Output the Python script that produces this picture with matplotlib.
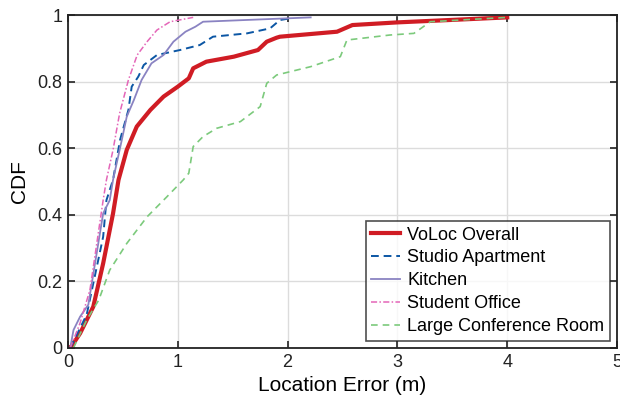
import matplotlib
matplotlib.use("Agg")
import matplotlib.pyplot as plt

plt.rcParams['font.family'] = ['Liberation Sans', 'DejaVu Sans']

# VoLoc Overall
overall_x = [0.0, 0.03, 0.11, 0.23, 0.32, 0.41, 0.46, 0.535, 0.626, 0.75, 0.87, 1.0, 1.10, 1.14,
             1.26, 1.51, 1.73, 1.81, 1.90, 1.93, 2.45, 2.59, 3.0, 4.0]
overall_y = [0.0, 0.004, 0.044, 0.124, 0.254, 0.404, 0.505, 0.595, 0.665, 0.715, 0.755, 0.785, 0.81, 0.84,
             0.86, 0.875, 0.895, 0.92, 0.932, 0.935, 0.95, 0.97, 0.978, 0.993]

# Studio Apartment
studio_x = [0.02, 0.17, 0.32, 0.35, 0.41, 0.474, 0.55, 0.58, 0.64, 0.69, 0.81, 1.02, 1.20, 1.32,
            1.63, 1.84, 1.93, 2.02]
studio_y = [0.0, 0.10, 0.334, 0.444, 0.505, 0.625, 0.715, 0.785, 0.815, 0.85, 0.88, 0.895, 0.91, 0.935,
            0.945, 0.96, 0.985, 0.99]

# Kitchen
kitchen_x = [0.02, 0.05, 0.11, 0.185, 0.246, 0.32, 0.38, 0.41, 0.49, 0.535, 0.60, 0.67, 0.76, 0.87,
             0.96, 1.07, 1.16, 1.23, 2.21]
kitchen_y = [0.0, 0.054, 0.094, 0.13, 0.254, 0.404, 0.444, 0.505, 0.625, 0.695, 0.745, 0.805, 0.855, 0.88,
             0.92, 0.95, 0.965, 0.98, 0.993]

# Student Office
office_x = [0.02, 0.11, 0.2, 0.32, 0.35, 0.41, 0.47, 0.55, 0.63, 0.72, 0.81, 0.93, 1.14]
office_y = [0.0, 0.075, 0.175, 0.444, 0.505, 0.595, 0.705, 0.805, 0.88, 0.92, 0.955, 0.98, 0.993]

# Large Conference Room
conf_x = [0.05, 0.17, 0.28, 0.38, 0.535, 0.72, 0.90, 1.05, 1.10, 1.14, 1.23, 1.355, 1.57, 1.75,
          1.81, 1.90, 2.21, 2.48, 2.54, 2.93, 3.15, 3.30, 4.0]
conf_y = [0.0, 0.084, 0.144, 0.234, 0.314, 0.394, 0.454, 0.505, 0.525, 0.605, 0.635, 0.66, 0.68, 0.725,
          0.795, 0.82, 0.845, 0.875, 0.925, 0.94, 0.945, 0.98, 0.993]

fig = plt.figure(figsize=(6.2, 4.07), dpi=100)
ax = fig.add_axes([0.1097, 0.145, 0.8855, 0.818])

ax.plot(overall_x, overall_y, color="#d01c24", lw=3, label="VoLoc Overall")
ax.plot(studio_x, studio_y, color="#0b56a4", lw=1.4, ls=(0, (4, 2.5)), label="Studio Apartment")
ax.plot(kitchen_x, kitchen_y, color="#8a83c2", lw=1.3, label="Kitchen")
ax.plot(office_x, office_y, color="#e466b8", lw=1.1, ls=(0, (4, 1.5, 1, 1.5)), label="Student Office")
ax.plot(conf_x, conf_y, color="#7cca7c", lw=1.2, ls=(0, (4, 3)), label="Large Conference Room")

ax.set_xlim(0, 5)
ax.set_ylim(0, 1)
ax.set_xticks([0, 1, 2, 3, 4, 5])
ax.set_yticks([0, 0.2, 0.4, 0.6, 0.8, 1])
ax.set_yticklabels(["0", "0.2", "0.4", "0.6", "0.8", "1"])
ax.grid(True, color="#dcdcdc", lw=1)
ax.set_axisbelow(True)
ax.tick_params(direction="in", top=True, right=True, labelsize=13, length=5, width=1.2,
               colors="#222222", pad=4)
for s in ax.spines.values():
    s.set_linewidth(1.3)
    s.set_color("#222222")

ax.set_xlabel("Location Error (m)", fontsize=15, labelpad=4)
ax.set_ylabel("CDF", fontsize=15, labelpad=6)

leg = ax.legend(loc="lower right", fontsize=13, frameon=True, fancybox=False,
                borderaxespad=0.4, handlelength=1.6, handletextpad=0.4,
                labelspacing=0.33, borderpad=0.3)
leg.get_frame().set_edgecolor("#222222")
leg.get_frame().set_linewidth(1.2)

fig.savefig("out.png", dpi=100)
